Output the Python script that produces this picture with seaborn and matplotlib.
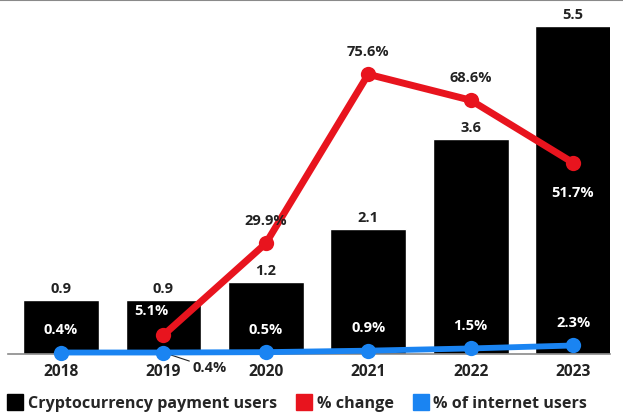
import matplotlib
matplotlib.use("Agg")
import matplotlib.pyplot as plt
import seaborn as sns
import numpy as np
import pandas as pd
from matplotlib.lines import Line2D

years = ["2018", "2019", "2020", "2021", "2022", "2023"]
users = [0.9, 0.9, 1.2, 2.1, 3.6, 5.5]
pct_change = [None, 5.1, 29.9, 75.6, 68.6, 51.7]
pct_internet = [0.4, 0.4, 0.5, 0.9, 1.5, 2.3]

RED = "#E8141E"
BLUE = "#1A84F2"
FONT = ["Open Sans", "DejaVu Sans"]
DARK = "#222222"
FS = 10.5

sns.set_theme(style="white")
plt.rcParams["font.family"] = FONT

fig = plt.figure(figsize=(6.23, 4.19), dpi=100)
ax = fig.add_axes([8 / 623, 65 / 419, 602 / 623, 344 / 419])

df = pd.DataFrame({"year": years, "users": users})
sns.barplot(data=df, x="year", y="users", color="black", width=0.74,
            saturation=1, ax=ax, zorder=2)
ax.set_ylim(0, 344 / 59.6)
ax.set_xlim(-0.518, 5.361)
ax.set_xlabel("")
ax.set_ylabel("")
ax.set_yticks([])
for s in ["top", "right", "left"]:
    ax.spines[s].set_visible(False)
ax.spines["bottom"].set_color("#8a8a8a")
ax.spines["bottom"].set_linewidth(1.2)
ax.tick_params(axis="x", length=0, pad=7, labelsize=FS + 0.7)
for t in ax.get_xticklabels():
    t.set_fontweight("bold")
    t.set_color(DARK)

for i, v in enumerate(users):
    ax.annotate(f"{v:.1f}", (i, v), xytext=(0, 3), textcoords="offset points",
                ha="center", va="bottom", fontsize=FS, fontweight="bold",
                color=DARK)

ax2 = ax.twinx()
ax2.set_ylim(0, 344 / 3.7)
ax2.set_yticks([])
for s in ax2.spines.values():
    s.set_visible(False)

xs = np.arange(len(years))
ch = pd.DataFrame({"x": xs[1:], "v": pct_change[1:]})
sns.lineplot(data=ch, x="x", y="v", color=RED, linewidth=5, marker="o",
             markersize=11, markeredgewidth=0, ax=ax2, zorder=4)
inet = pd.DataFrame({"x": xs, "v": pct_internet})
sns.lineplot(data=inet, x="x", y="v", color=BLUE, linewidth=4.2, marker="o",
             markersize=11, markeredgewidth=0, ax=ax2, zorder=5, clip_on=False)
ax2.set_xlabel("")
ax2.set_ylabel("")
ax2.set_xlim(-0.518, 5.361)

# % change labels
ch_offsets = {1: (-9, 12, "white"), 2: (0, 11, DARK), 3: (0, 11, DARK),
              4: (0, 11, DARK), 5: (0, -27, "white")}
for i in range(1, len(years)):
    dx, dy, c = ch_offsets[i]
    ax2.annotate(f"{pct_change[i]:.1f}%", (i, pct_change[i]), xytext=(dx, dy),
                 textcoords="offset points", ha="center", va="bottom",
                 fontsize=FS, fontweight="bold", color=c, zorder=6)

# % internet labels
for i, v in enumerate(pct_internet):
    if i == 1:
        ax2.annotate(f"{v:.1f}%", (i, v), xytext=(21, -11),
                     textcoords="offset points", ha="left", va="center",
                     fontsize=FS, fontweight="bold", color=DARK,
                     arrowprops=dict(arrowstyle="-", color=DARK, lw=0.8,
                                     shrinkA=0, shrinkB=2))
    else:
        ax2.annotate(f"{v:.1f}%", (i, v), xytext=(0, 11),
                     textcoords="offset points", ha="center", va="bottom",
                     fontsize=FS, fontweight="bold", color="white", zorder=6)

# top rule
fig.add_artist(Line2D([0, 1], [0.999, 0.999], color="#8a8a8a", lw=1.5,
                      transform=fig.transFigure))

handles = [Line2D([], [], marker="s", color=c, linestyle="", markersize=12)
           for c in ["black", RED, BLUE]]
fig.legend(handles, ["Cryptocurrency payment users", "% change", "% of internet users"],
           loc="lower left", bbox_to_anchor=(-0.014, -0.018), ncol=3, frameon=False,
           handletextpad=0.2, columnspacing=1.05, handlelength=1.2,
           prop={"family": FONT, "weight": "bold", "size": 11.6})

fig.savefig("out.png", dpi=100)
